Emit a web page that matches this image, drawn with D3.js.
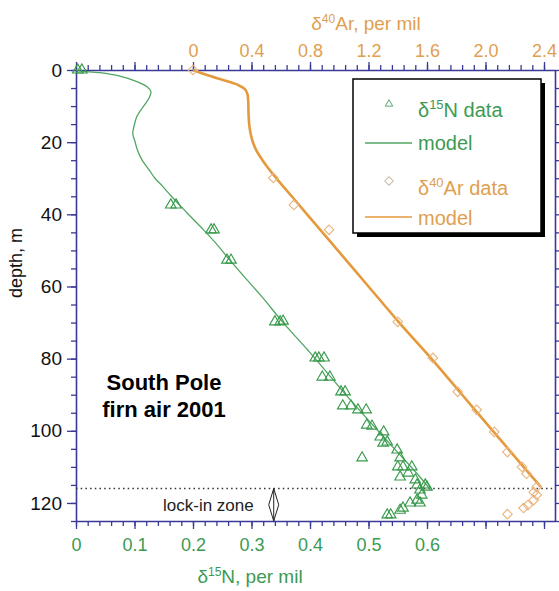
<!DOCTYPE html>
<html>
<head>
<meta charset="utf-8">
<script src="https://cdn.jsdelivr.net/npm/d3@7"></script>
<style>
  html, body { margin: 0; padding: 0; background: #fff; }
  svg { display: block; font-family: "Liberation Sans", Arial, Helvetica, sans-serif; }
</style>
</head>
<body>
<svg id="chart" width="559" height="591"></svg>
<script>
// δ15N measurements: [depth m, per mil]
const n15Data = [
  [0, 0.003], [0, 0.010], [37.4, 0.162], [37.4, 0.171], [44.3, 0.231], [44.3, 0.236],
  [52.7, 0.258], [52.7, 0.265], [69.8, 0.340], [69.8, 0.349], [69.6, 0.354],
  [79.8, 0.409], [79.8, 0.415], [79.8, 0.424], [85.1, 0.421], [85.1, 0.434],
  [89.2, 0.453], [89.2, 0.460], [93.1, 0.456], [93.1, 0.470], [94.2, 0.482], [94.2, 0.496],
  [98.4, 0.497], [98.7, 0.506], [100.3, 0.526], [101.7, 0.520], [103.1, 0.532], [103.4, 0.525],
  [105.3, 0.549], [107.5, 0.489], [107.5, 0.554], [110, 0.550], [110, 0.559], [110, 0.574],
  [111.7, 0.568], [112.8, 0.554], [113.6, 0.580], [115, 0.583], [115, 0.597], [115.6, 0.600],
  [116.4, 0.588], [117.8, 0.591], [119.2, 0.583], [120, 0.588], [120, 0.571], [121.4, 0.559],
  [122, 0.554], [123.3, 0.532], [123.3, 0.538]
];

// δ15N firn model: [depth m, per mil]
const n15Model = [
  [0, 0], [0.3, 0.007], [0.75, 0.041], [1.7, 0.075], [3.2, 0.104], [4.6, 0.121],
  [6.0, 0.128], [7.4, 0.126], [8.8, 0.121], [10.6, 0.113], [12.9, 0.104], [15.7, 0.099],
  [17.6, 0.097], [19.9, 0.101], [22.2, 0.105], [25, 0.113], [27.7, 0.125], [30, 0.135],
  [32.4, 0.149], [35, 0.163], [37.4, 0.177], [40, 0.192], [44.3, 0.218], [48, 0.239],
  [52.7, 0.263], [57, 0.286], [62.9, 0.318], [69.8, 0.353], [77.6, 0.396], [80, 0.409],
  [89.2, 0.457], [97.8, 0.504], [105.3, 0.546], [112.8, 0.588], [116.4, 0.606]
];

// δ40Ar measurements: [depth m, per mil]
const ar40Data = [
  [0, 0], [29.9, 0.55], [37.4, 0.69], [44.3, 0.93], [69.8, 1.40], [79.8, 1.64],
  [89.2, 1.81], [94.2, 1.94], [100.3, 2.06], [105.9, 2.15], [110.0, 2.25], [111.9, 2.28],
  [115.6, 2.35], [117.0, 2.33], [117.8, 2.35], [119.2, 2.33], [120.6, 2.29], [121.4, 2.26],
  [123.1, 2.15]
];

// δ40Ar firn model: [depth m, per mil]
const ar40Model = [
  [0, 0], [1.4, 0.095], [3.0, 0.225], [4.2, 0.31], [5.3, 0.355], [6.6, 0.372],
  [9, 0.378], [12.5, 0.380], [15.7, 0.386], [18, 0.396], [20.3, 0.412], [22.5, 0.436],
  [25, 0.475], [27.5, 0.52], [30.5, 0.58], [35, 0.675],
  [40, 0.78], [50, 0.99], [60, 1.20], [70, 1.41], [80, 1.63], [90, 1.84], [100, 2.05],
  [110, 2.26], [115.6, 2.38]
];

// Axis ticks
const depthMajor = d3.range(0, 121, 20);
const depthMinor = d3.range(0, 126, 5);
const n15Major = d3.range(0, 0.801, 0.1);
const n15Minor = d3.range(0, 0.801, 0.02);
const n15Labels = ["0", "0.1", "0.2", "0.3", "0.4", "0.5", "0.6", "", ""];
const ar40Major = d3.range(-0.8, 2.401, 0.4);
const ar40Minor = d3.range(-0.8, 2.401, 0.08);
const ar40Labels = ["", "", "0", "0.4", "0.8", "1.2", "1.6", "2.0", "2.4"];

// Close-off (lock-in) depth and annotation
const lockInDepth = 116;
const arrowN = 0.338;

const colors = {
  axis: "#3a3a96",
  n15: "#389a4c",
  n15Line: "#4fa662",
  ar40: "#e49a3c",
  ar40Mark: "#e8b47e",
  n15Text: "#3d9a52",
  ar40Text: "#e0a050"
};

const frame = { left: 76, right: 555, top: 70, bottom: 521 };

const svg = d3.select("#chart");

const y = d3.scaleLinear().domain([0, 125]).range([frame.top, frame.bottom]);
const xN = d3.scaleLinear().domain([0, 0.8188]).range([frame.left, frame.right]);
// Ar axis shares the frame: Ar = 4 (N - 0.2)
const xAr = d3.scaleLinear().domain([-0.8, 2.4752]).range([frame.left, frame.right]);

function styleAxis(g, labelColor, fontSize) {
  g.selectAll(".domain").attr("stroke", colors.axis).attr("stroke-width", 1.6);
  g.selectAll(".tick line").attr("stroke", colors.axis).attr("stroke-width", 1.3);
  g.selectAll(".tick text").attr("fill", labelColor).style("font-size", fontSize + "px")
    .style("font-family", "'Liberation Sans', Arial, sans-serif");
}

// Left depth axis
const gLeftMinor = svg.append("g").attr("transform", `translate(${frame.left},0)`)
  .call(d3.axisLeft(y).tickValues(depthMinor).tickSize(5).tickSizeOuter(0).tickFormat(""));
gLeftMinor.select(".domain").remove();
styleAxis(gLeftMinor, "#000", 18);
const gLeft = svg.append("g").attr("transform", `translate(${frame.left},0)`)
  .call(d3.axisLeft(y).tickValues(depthMajor).tickSize(9).tickSizeOuter(0).tickPadding(5).tickFormat(d3.format("d")));
styleAxis(gLeft, "#111", 19);

// Right depth axis (ticks only)
const gRight = svg.append("g").attr("transform", `translate(${frame.right},0)`)
  .call(d3.axisRight(y).tickValues(depthMinor).tickSize(6).tickSizeOuter(0).tickFormat(""));
styleAxis(gRight, "#000", 18);

// Bottom δ15N axis
const gBotMinor = svg.append("g").attr("transform", `translate(0,${frame.bottom})`)
  .call(d3.axisBottom(xN).tickValues(n15Minor).tickSize(5).tickSizeOuter(0).tickFormat(""));
gBotMinor.select(".domain").remove();
styleAxis(gBotMinor, "#000", 18);
const gBot = svg.append("g").attr("transform", `translate(0,${frame.bottom})`)
  .call(d3.axisBottom(xN).tickValues(n15Major).tickSize(8).tickSizeOuter(0).tickPadding(9)
    .tickFormat((d, i) => n15Labels[i]));
styleAxis(gBot, colors.n15Text, 18);

// Top δ40Ar axis
const gTopMinor = svg.append("g").attr("transform", `translate(0,${frame.top})`)
  .call(d3.axisTop(xAr).tickValues(ar40Minor).tickSize(5).tickSizeOuter(0).tickFormat(""));
gTopMinor.select(".domain").remove();
styleAxis(gTopMinor, "#000", 18);
const gTop = svg.append("g").attr("transform", `translate(0,${frame.top})`)
  .call(d3.axisTop(xAr).tickValues(ar40Major).tickSize(8).tickSizeOuter(0).tickPadding(5)
    .tickFormat((d, i) => ar40Labels[i]));
styleAxis(gTop, colors.ar40Text, 18);

// Axis titles
const topTitle = svg.append("text").attr("x", 366).attr("y", 30).attr("text-anchor", "middle")
  .attr("fill", colors.ar40Text).style("font-size", "19px");
topTitle.append("tspan").text("δ");
topTitle.append("tspan").attr("dy", -7).style("font-size", "12px").text("40");
topTitle.append("tspan").attr("dy", 7).text("Ar, per mil");

const botTitle = svg.append("text").attr("x", 250).attr("y", 583).attr("text-anchor", "middle")
  .attr("fill", colors.n15Text).style("font-size", "19px");
botTitle.append("tspan").text("δ");
botTitle.append("tspan").attr("dy", -7).style("font-size", "12px").text("15");
botTitle.append("tspan").attr("dy", 7).text("N, per mil");

svg.append("text").attr("transform", "translate(22,263) rotate(-90)").attr("text-anchor", "middle")
  .attr("fill", "#111").style("font-size", "18px").text("depth, m");

// Lock-in depth marker
svg.append("line")
  .attr("x1", frame.left).attr("x2", frame.right).attr("y1", y(lockInDepth)).attr("y2", y(lockInDepth))
  .attr("stroke", "#333").attr("stroke-width", 1.4).attr("stroke-dasharray", "1.5,3.2");

const ax = xN(arrowN), ay1 = y(lockInDepth), ay2 = y(125), am = (ay1 + ay2) / 2;
svg.append("path")
  .attr("d", `M${ax},${ay1}V${ay2}M${ax - 5},${am}L${ax},${ay1}L${ax + 5},${am}M${ax - 5},${am}L${ax},${ay2}L${ax + 5},${am}`)
  .attr("fill", "none").attr("stroke", "#222").attr("stroke-width", 1);

svg.append("text").attr("x", ax - 20).attr("y", 511).attr("text-anchor", "end")
  .attr("fill", "#222").style("font-size", "17px").text("lock-in zone");

// Site label
const site = svg.append("text").attr("text-anchor", "middle").attr("fill", "#000")
  .style("font-size", "22px").style("font-weight", "bold");
site.append("tspan").attr("x", 164).attr("y", 390).text("South Pole");
site.append("tspan").attr("x", 164).attr("y", 417).text("firn air 2001");

// Model curves
const lineN = d3.line().x(d => xN(d[1])).y(d => y(d[0])).curve(d3.curveCatmullRom);
const lineAr = d3.line().x(d => xAr(d[1])).y(d => y(d[0])).curve(d3.curveCatmullRom);

svg.append("path").datum(ar40Model).attr("d", lineAr)
  .attr("fill", "none").attr("stroke", colors.ar40).attr("stroke-width", 2.6);
svg.append("path").datum(n15Model).attr("d", lineN)
  .attr("fill", "none").attr("stroke", colors.n15Line).attr("stroke-width", 1.3);

// Data markers
const tri = d3.symbol().type(d3.symbolTriangle).size(48);
const dia = d3.symbol().type(d3.symbolSquare).size(46);

svg.append("g").selectAll("path").data(ar40Data).join("path")
  .attr("d", dia)
  .attr("transform", d => `translate(${xAr(d[1])},${y(d[0])}) rotate(45)`)
  .attr("fill", "none").attr("stroke", colors.ar40Mark).attr("stroke-width", 1.1);

svg.append("g").selectAll("path").data(n15Data).join("path")
  .attr("d", tri)
  .attr("transform", d => `translate(${xN(d[1])},${y(d[0])})`)
  .attr("fill", "none").attr("stroke", colors.n15).attr("stroke-width", 1.15);

// Legend
const lg = svg.append("g");
lg.append("rect").attr("x", 357).attr("y", 83).attr("width", 188).attr("height", 154).attr("fill", "#000");
lg.append("rect").attr("x", 353).attr("y", 79).attr("width", 188).attr("height", 154)
  .attr("fill", "#fff").attr("stroke", "#000").attr("stroke-width", 1.5);

lg.append("path").attr("d", d3.symbol().type(d3.symbolTriangle).size(24))
  .attr("transform", "translate(389,104)").attr("fill", "none").attr("stroke", "#5aa572").attr("stroke-width", 1);
const l1 = lg.append("text").attr("x", 418).attr("y", 117).attr("fill", colors.n15Text).style("font-size", "20px");
l1.append("tspan").text("δ");
l1.append("tspan").attr("dy", -8).style("font-size", "13px").text("15");
l1.append("tspan").attr("dy", 8).text("N data");

lg.append("line").attr("x1", 365).attr("x2", 412).attr("y1", 143).attr("y2", 143)
  .attr("stroke", colors.n15Line).attr("stroke-width", 1.3);
lg.append("text").attr("x", 418).attr("y", 150).attr("fill", colors.n15Text).style("font-size", "20px").text("model");

lg.append("path").attr("d", d3.symbol().type(d3.symbolSquare).size(36))
  .attr("transform", "translate(389,181) rotate(45)").attr("fill", "none").attr("stroke", "#c9b8a6").attr("stroke-width", 1);
const l3 = lg.append("text").attr("x", 418).attr("y", 195).attr("fill", colors.ar40Text).style("font-size", "20px");
l3.append("tspan").text("δ");
l3.append("tspan").attr("dy", -8).style("font-size", "13px").text("40");
l3.append("tspan").attr("dy", 8).text("Ar data");

lg.append("line").attr("x1", 365).attr("x2", 412).attr("y1", 217).attr("y2", 217)
  .attr("stroke", colors.ar40).attr("stroke-width", 1.6);
lg.append("text").attr("x", 418).attr("y", 225).attr("fill", colors.ar40Text).style("font-size", "20px").text("model");
</script>
</body>
</html>
